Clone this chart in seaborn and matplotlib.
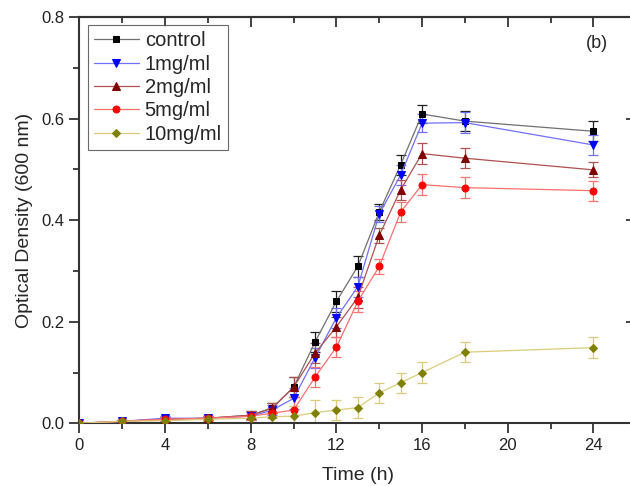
#!/usr/bin/env python
"""Growth curves (OD600) for different concentrations."""

import matplotlib
matplotlib.use("Agg")
import matplotlib.pyplot as plt
import pandas as pd
import seaborn as sns
from matplotlib.ticker import MultipleLocator, NullFormatter

# time points (h)
times = [0, 2, 4, 6, 8, 9, 10, 11, 12, 13, 14, 15, 16, 18, 24]

# optical density readings
od_control = [0, 0.004, 0.008, 0.010, 0.016, 0.030, 0.071, 0.160, 0.240, 0.309, 0.416, 0.509, 0.609, 0.595, 0.575]
od_1mg = [0, 0.004, 0.010, 0.010, 0.014, 0.026, 0.049, 0.129, 0.208, 0.269, 0.412, 0.489, 0.591, 0.592, 0.548]
od_2mg = [0, 0.004, 0.008, 0.010, 0.016, 0.030, 0.071, 0.138, 0.190, 0.248, 0.370, 0.460, 0.531, 0.522, 0.499]
od_5mg = [0, 0.004, 0.008, 0.010, 0.014, 0.020, 0.026, 0.091, 0.150, 0.240, 0.309, 0.416, 0.470, 0.464, 0.458]
od_10mg = [0, 0.004, 0.005, 0.008, 0.010, 0.013, 0.014, 0.021, 0.026, 0.031, 0.060, 0.080, 0.100, 0.140, 0.149]

# standard deviations
err_control = [0, 0.003, 0.004, 0.004, 0.008, 0.010, 0.020, 0.020, 0.020, 0.020, 0.015, 0.020, 0.018, 0.020, 0.020]
err_1mg = [0, 0.003, 0.004, 0.004, 0.008, 0.010, 0.020, 0.020, 0.020, 0.020, 0.015, 0.020, 0.018, 0.020, 0.020]
err_2mg = [0, 0.003, 0.004, 0.004, 0.008, 0.010, 0.020, 0.020, 0.020, 0.020, 0.015, 0.020, 0.020, 0.020, 0.015]
err_5mg = [0, 0.003, 0.004, 0.004, 0.008, 0.010, 0.025, 0.020, 0.020, 0.020, 0.015, 0.020, 0.020, 0.020, 0.020]
err_10mg = [0, 0.003, 0.004, 0.004, 0.008, 0.010, 0.020, 0.025, 0.020, 0.020, 0.020, 0.020, 0.020, 0.020, 0.020]

labels = ["control", "1mg/ml", "2mg/ml", "5mg/ml", "10mg/ml"]


def build_frame():
    """Long-form table for seaborn."""
    rows = []
    series = [od_control, od_1mg, od_2mg, od_5mg, od_10mg]
    errors = [err_control, err_1mg, err_2mg, err_5mg, err_10mg]
    for label, vals, errs in zip(labels, series, errors):
        for t, v, e in zip(times, vals, errs):
            rows.append({"time": t, "od": v, "err": e, "group": label})
    return pd.DataFrame(rows)


def main():
    sns.set_style("ticks")
    plt.rcParams["font.family"] = ["Liberation Sans", "DejaVu Sans"]

    df = build_frame()

    line_colors = {"control": "#707070", "1mg/ml": "#7070ff", "2mg/ml": "#b05050",
                   "5mg/ml": "#ff7070", "10mg/ml": "#dccb78"}
    marker_colors = {"control": "#000000", "1mg/ml": "#0000ff", "2mg/ml": "#800000",
                     "5mg/ml": "#ff0000", "10mg/ml": "#808000"}
    markers = {"control": "s", "1mg/ml": "v", "2mg/ml": "^", "5mg/ml": "o", "10mg/ml": "D"}
    sizes = {"control": 4.5, "1mg/ml": 5.5, "2mg/ml": 5.5, "5mg/ml": 5, "10mg/ml": 4}

    fig = plt.figure(figsize=(6.3, 4.86), dpi=100)
    ax = fig.add_axes([0.126, 0.129, 0.884, 0.836])

    for label in labels:
        sub = df[df["group"] == label]
        ax.errorbar(sub["time"], sub["od"], yerr=sub["err"], fmt="none",
                    ecolor=line_colors[label] if label != "control" else "#202020",
                    elinewidth=0.9, capsize=3.5, capthick=0.9, zorder=2)
        sns.lineplot(data=sub, x="time", y="od", ax=ax, color=line_colors[label],
                     linewidth=0.9, marker=markers[label], markersize=sizes[label],
                     markerfacecolor=marker_colors[label], markeredgecolor=marker_colors[label],
                     label=label, zorder=3)

    ax.set_xlim(0, 26)
    ax.set_ylim(0, 0.8)
    ax.xaxis.set_major_locator(MultipleLocator(4))
    ax.xaxis.set_minor_locator(MultipleLocator(2))
    ax.yaxis.set_major_locator(MultipleLocator(0.2))
    ax.yaxis.set_minor_locator(MultipleLocator(0.1))
    ax.yaxis.set_major_formatter(plt.FormatStrFormatter("%.1f"))
    ax.tick_params(which="major", direction="out", length=7, width=1.2, labelsize=12,
                   colors="#222222")
    ax.tick_params(which="minor", direction="out", length=4, width=1.2, colors="#222222")
    for spine in ax.spines.values():
        spine.set_linewidth(1.5)
        spine.set_color("#333333")

    # mirrored inward ticks on top and right
    top = ax.secondary_xaxis("top")
    top.xaxis.set_major_locator(MultipleLocator(4))
    top.xaxis.set_minor_locator(MultipleLocator(2))
    top.xaxis.set_major_formatter(NullFormatter())
    top.tick_params(which="major", direction="in", length=7, width=1.2, colors="#222222")
    top.tick_params(which="minor", direction="in", length=4, width=1.2, colors="#222222")
    top.spines["top"].set_linewidth(1.5)
    right = ax.secondary_yaxis("right")
    right.yaxis.set_major_locator(MultipleLocator(0.2))
    right.yaxis.set_minor_locator(MultipleLocator(0.1))
    right.yaxis.set_major_formatter(NullFormatter())
    right.tick_params(which="major", direction="in", length=7, width=1.2, colors="#222222")
    right.tick_params(which="minor", direction="in", length=4, width=1.2, colors="#222222")

    ax.set_xlabel("Time (h)", fontsize=14, labelpad=10)
    ax.set_ylabel("Optical Density (600 nm)", fontsize=14, labelpad=6)

    ax.text(0.93, 0.935, "(b)", transform=ax.transAxes, fontsize=13,
            ha="center", va="center")

    leg = ax.legend(loc="upper left", numpoints=1, fontsize=14.5, frameon=True,
                    fancybox=False, edgecolor="#444444", handlelength=2.2,
                    handletextpad=0.3, borderpad=0.3, borderaxespad=0.0,
                    labelspacing=0.22, bbox_to_anchor=(0.016, 0.98))
    leg.get_frame().set_linewidth(0.8)

    fig.savefig("out.png", dpi=100)
    plt.close(fig)


if __name__ == "__main__":
    main()
